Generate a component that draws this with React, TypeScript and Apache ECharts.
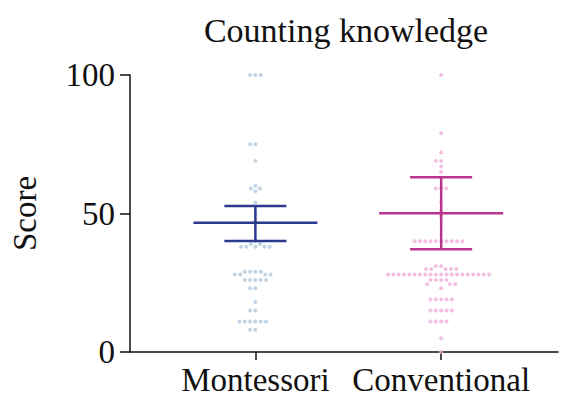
import React, { useEffect, useRef } from "react";
import * as echarts from "echarts";

const chartTitle = "Counting knowledge";
const yAxisName = "Score";
const categories = ["Montessori", "Conventional"];
const yTicks = [0, 50, 100];

const montessoriScores = [
  100, 100, 100, 75, 75, 69, 60, 59, 59, 58, 54, 50, 47, 40, 39, 39, 38, 38, 38, 38, 38,
  29, 29, 29, 29, 28, 28, 28, 28, 26, 26, 26, 26, 26, 23, 23, 18, 15, 15,
  11, 11, 11, 11, 11, 11, 8, 8,
];
const conventionalScores = [
  100, 79, 72, 69, 69, 67, 65, 59, 59, 59, 54, 51, 49,
  40, 40, 40, 40, 40, 40, 40, 40, 40, 40, 31, 31, 30, 30, 30, 30, 30,
  28, 28, 28, 28, 28, 28, 28, 28, 28, 28, 28, 28, 28, 28, 28, 28, 28, 28, 28, 28,
  26, 26, 26, 26, 24.5, 24.5, 24.5, 23, 19, 19, 19, 19, 19, 15, 15, 15, 15, 15,
  11, 11, 11, 11, 5, 0,
];
// [centre line, lower whisker, upper whisker]
const montessoriSummary = [46.7, 40.1, 52.7];
const conventionalSummary = [50.1, 37.1, 63.1];

// layout
const W = 561;
const H = 403;
const GRID = { left: 123, right: 3, top: 75, bottom: 51 };
const CAT_X = [29.3, 72.7];
const POINT_GAP = 5.4;
const FONT = "'Liberation Serif', 'Times New Roman', serif";
const COLORS = {
  mPoint: "#b3c9dc",
  cPoint: "#f0b0da",
  mLine: "#2b3a8f",
  cLine: "#b8338b",
};

function swarm(values: number[], center: number) {
  const pxX = (W - GRID.left - GRID.right) / 100;
  const pxY = (H - GRID.top - GRID.bottom) / 100;
  const placed: { x: number; y: number }[] = [];
  const sorted = [...values].sort((a, b) => b - a);
  const out: number[][] = [];
  for (const v of sorted) {
    const y = v * pxY;
    const intervals: number[][] = [];
    for (const p of placed) {
      const dy = Math.abs(p.y - y);
      if (dy < POINT_GAP) {
        const dx = Math.sqrt(POINT_GAP * POINT_GAP - dy * dy);
        intervals.push([p.x - dx, p.x + dx]);
      }
    }
    const cands = [0];
    intervals.forEach(([a, b]) => cands.push(a, b));
    cands.sort((a, b) => Math.abs(a) - Math.abs(b));
    let x = 0;
    for (const c of cands) {
      if (intervals.every(([a, b]) => c <= a + 1e-6 || c >= b - 1e-6)) {
        x = c;
        break;
      }
    }
    placed.push({ x, y });
    out.push([center + x / pxX, v]);
  }
  return out;
}

export default function App() {
  const ref = useRef<HTMLDivElement>(null);
  useEffect(() => {
    if (!ref.current) return;
    const chart = echarts.init(ref.current, null, { renderer: "svg" });
    const summaries = [montessoriSummary, conventionalSummary];
    const lineColors = [COLORS.mLine, COLORS.cLine];
    chart.setOption({
      animation: false,
      backgroundColor: "#ffffff",
      grid: { ...GRID },
      graphic: [
        {
          type: "text",
          x: 346,
          y: 30,
          style: {
            text: chartTitle,
            font: `34px ${FONT}`,
            fill: "#111",
            align: "center",
            verticalAlign: "middle",
          },
        },
      ],
      xAxis: {
        type: "value",
        min: 0,
        max: 100,
        splitLine: { show: false },
        axisLine: { show: true, lineStyle: { color: "#111", width: 1.5 } },
        axisTick: {
          show: true,
          length: 8,
          customValues: CAT_X,
          lineStyle: { color: "#111", width: 1.5 },
        },
        axisLabel: {
          customValues: CAT_X,
          margin: 11,
          fontFamily: FONT,
          fontSize: 33,
          color: "#111",
          formatter: (v: number) => {
            let best = 0;
            CAT_X.forEach((c, i) => {
              if (Math.abs(c - v) < Math.abs(CAT_X[best] - v)) best = i;
            });
            return categories[best];
          },
        },
      },
      yAxis: {
        type: "value",
        min: 0,
        max: 100,
        interval: 50,
        name: yAxisName,
        nameLocation: "middle",
        nameRotate: 90,
        nameGap: 89,
        nameTextStyle: { fontFamily: FONT, fontSize: 33, color: "#111" },
        splitLine: { show: false },
        axisLine: { show: true, lineStyle: { color: "#111", width: 1.5 } },
        axisTick: { show: true, length: 10, lineStyle: { color: "#111", width: 1.5 } },
        axisLabel: {
          margin: 15,
          fontFamily: FONT,
          fontSize: 33,
          color: "#111",
          formatter: (v: number) => (yTicks.includes(v) ? String(v) : ""),
        },
      },
      series: [
        {
          type: "scatter",
          name: categories[0],
          data: swarm(montessoriScores, CAT_X[0]),
          symbolSize: 4,
          itemStyle: { color: COLORS.mPoint },
          z: 2,
        },
        {
          type: "scatter",
          name: categories[1],
          data: swarm(conventionalScores, CAT_X[1]),
          symbolSize: 4,
          itemStyle: { color: COLORS.cPoint },
          z: 2,
        },
        {
          type: "custom",
          z: 5,
          data: summaries.map((s, i) => ({
            value: [CAT_X[i], s[0], s[1], s[2]],
            itemStyle: { color: lineColors[i] },
          })),
          renderItem: (params: any, api: any) => {
            const cx = api.value(0);
            const pm = api.coord([cx, api.value(1)]);
            const pl = api.coord([cx, api.value(2)]);
            const ph = api.coord([cx, api.value(3)]);
            const style = { stroke: api.visual("color"), lineWidth: 2.5 };
            return {
              type: "group",
              children: [
                { type: "line", shape: { x1: pm[0] - 62, y1: pm[1], x2: pm[0] + 62, y2: pm[1] }, style },
                { type: "line", shape: { x1: pl[0], y1: pl[1], x2: ph[0], y2: ph[1] }, style },
                { type: "line", shape: { x1: pl[0] - 31, y1: pl[1], x2: pl[0] + 31, y2: pl[1] }, style },
                { type: "line", shape: { x1: ph[0] - 31, y1: ph[1], x2: ph[0] + 31, y2: ph[1] }, style },
              ],
            };
          },
        },
      ],
    });
    return () => chart.dispose();
  }, []);
  return (
    <div
      ref={ref}
      style={{ position: "fixed", left: 0, top: 0, width: W, height: H, background: "#fff" }}
    />
  );
}
